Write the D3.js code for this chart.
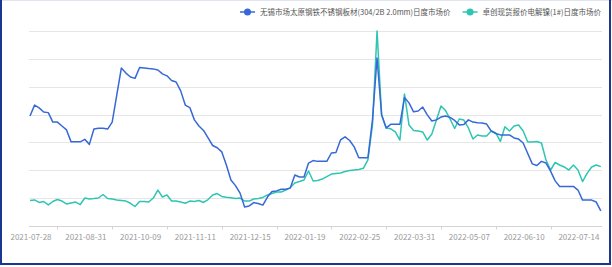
<!DOCTYPE html>
<html><head><meta charset="utf-8">
<script src="https://cdn.jsdelivr.net/npm/d3@7/dist/d3.min.js"></script>
<style>
html,body{margin:0;padding:0;background:#fff;}
svg{display:block;font-family:"Noto Sans CJK SC","Noto Sans",sans-serif;}
</style></head>
<body>
<svg id="c" width="612" height="267"></svg>
<script>
// Series names
const seriesNames = ["无锡市场太原钢铁不锈钢板材(304/2B 2.0mm)日度市场价", "卓创现货报价电解镍(1#)日度市场价"];
// Tick labels (every 12th category)
const tickLabels = ["2021-07-28","2021-08-31","2021-10-09","2021-11-11","2021-12-15","2022-01-19","2022-02-25","2022-03-31","2022-05-07","2022-06-10","2022-07-14"];
const tickEvery = 12;
// Stainless steel price (yuan/t), left hidden axis
const steel = [17950,18340,18240,18090,18070,17730,17730,17590,17450,17020,17020,17020,17110,16930,17480,17510,17510,17480,17730,18700,
19670,19490,19350,19300,19690,19670,19650,19640,19600,19460,19390,19220,19170,18850,18340,18250,17810,17590,17430,17160,
16890,16810,16660,16190,15650,15450,15180,14680,14720,14840,14810,14750,15040,15240,15260,15320,15320,15360,15830,15760,
15760,16260,16350,16320,16320,16320,16620,16640,17090,17200,17070,16840,16450,16450,16450,17810,20030,17990,17520,17650,
17650,17650,18610,18420,18100,18130,18270,17990,17770,17810,17910,17950,17900,17790,17630,17640,17810,17730,17710,17700,
17660,17410,17320,17270,17270,17270,17160,17120,16980,16600,16230,16170,16320,16260,15970,15620,15420,15420,15420,15420,
15290,14930,14930,14930,14860,14540];
// Electrolytic nickel price (yuan/t), right hidden axis
const nickel = [138300,138700,136900,137600,135100,137600,139000,137900,135800,136500,137200,135400,140100,139400,139700,140100,142600,139700,139400,138700,
138300,137900,136300,134000,137600,137600,137200,140100,145800,140800,142300,137900,137900,137200,136300,137900,137600,138300,136900,139000,
142300,143300,141200,140600,140200,139700,140100,137900,137900,139400,139700,140500,142300,143300,144400,144400,145800,147600,150900,151900,
153000,159500,152300,152700,153700,155500,157300,157700,158000,159100,159800,160200,160600,161400,167400,192500,260000,199700,190400,189800,
187500,181700,214800,192500,188600,188200,187500,181700,186000,196100,206100,202900,196800,190000,196800,196100,190400,182500,185300,184600,
184600,188200,186800,180700,191300,188200,191800,192500,188200,180300,180300,180700,179600,167400,160200,165600,163800,162400,160200,163800,
160200,151900,157800,162400,163800,162600];
const steelDomain = [14000, 21000];
const nickelDomain = [120000, 260000];
const gridCount = 7;

const colors = ["#3768d8", "#2ec5b2"];
const W = 612, H = 267;
const m = {left: 29, right: 10, top: 31, bottom: 41};
const svg = d3.select("#c");

// frame
svg.append("rect").attr("x",0).attr("y",0).attr("width",W).attr("height",1).attr("fill","#dfe4ee");
svg.append("rect").attr("x",0).attr("y",0).attr("width",2).attr("height",265).attr("fill","#1b3590");
svg.append("rect").attr("x",609).attr("y",0).attr("width",2).attr("height",265).attr("fill","#1b3590");
svg.append("rect").attr("x",0).attr("y",263).attr("width",611).attr("height",2).attr("fill","#1b3590");

const N = steel.length;
const x = d3.scaleLinear().domain([0, N-1]).range([30, 600.8]);
const yS = d3.scaleLinear().domain(steelDomain).range([H - m.bottom, m.top]);
const yN = d3.scaleLinear().domain(nickelDomain).range([H - m.bottom, m.top]);

// grid lines
const gridVals = d3.range(1, gridCount + 1).map(i => steelDomain[0] + i * (steelDomain[1]-steelDomain[0]) / gridCount);
svg.append("g").selectAll("line").data(gridVals).join("line")
  .attr("x1", 29).attr("x2", 602)
  .attr("y1", d => Math.round(yS(d)) + 0.5).attr("y2", d => Math.round(yS(d)) + 0.5)
  .attr("stroke", "#e6e6e6").attr("stroke-width", 1);

// x axis
const base = Math.round(yS(steelDomain[0])) + 0.5;
svg.append("line").attr("x1", 29).attr("x2", 602).attr("y1", base).attr("y2", base)
  .attr("stroke", "#d4d4d4").attr("stroke-width", 1);
const tickIdx = tickLabels.map((_, i) => i * tickEvery);
svg.append("g").selectAll("line").data(tickIdx.slice(0, tickIdx.length - 1)).join("line")
  .attr("x1", d => Math.round(x(d + tickEvery/2)) + 0.5).attr("x2", d => Math.round(x(d + tickEvery/2)) + 0.5)
  .attr("y1", base).attr("y2", base + 3)
  .attr("stroke", "#d4d4d4");
svg.append("g").selectAll("text").data(tickLabels).join("text")
  .attr("x", (d, i) => x(tickIdx[i]) + 1)
  .attr("y", base + 13)
  .attr("text-anchor", "middle")
  .attr("font-size", "8px")
  .attr("fill", "#9a9a9a")
  .text(d => d);

// lines
const lineS = d3.line().x((d, i) => x(i)).y(d => yS(d)).curve(d3.curveLinear);
const lineN = d3.line().x((d, i) => x(i)).y(d => yN(d)).curve(d3.curveLinear);
svg.append("path").datum(nickel).attr("d", lineN).attr("fill", "none")
  .attr("stroke", colors[1]).attr("stroke-width", 1.5).attr("stroke-linejoin", "round");
svg.append("path").datum(steel).attr("d", lineS).attr("fill", "none")
  .attr("stroke", colors[0]).attr("stroke-width", 1.5).attr("stroke-linejoin", "round");

// legend
const lg = svg.append("g").attr("font-size", "7.5px").attr("fill", "#555");
let lx = 240;
seriesNames.forEach((name, i) => {
  const g = lg.append("g").attr("transform", `translate(${lx},12)`);
  g.append("line").attr("x1", 0).attr("x2", 15).attr("y1", 0).attr("y2", 0)
    .attr("stroke", colors[i]).attr("stroke-width", 1.5);
  g.append("circle").attr("cx", 7.5).attr("cy", 0).attr("r", 3.5).attr("fill", colors[i]);
  const t = g.append("text").attr("x", 20).attr("y", 2.7).attr("fill", "#555").text(name);
  lx += 20 + t.node().getComputedTextLength() + 12;
});
</script>
</body></html>
